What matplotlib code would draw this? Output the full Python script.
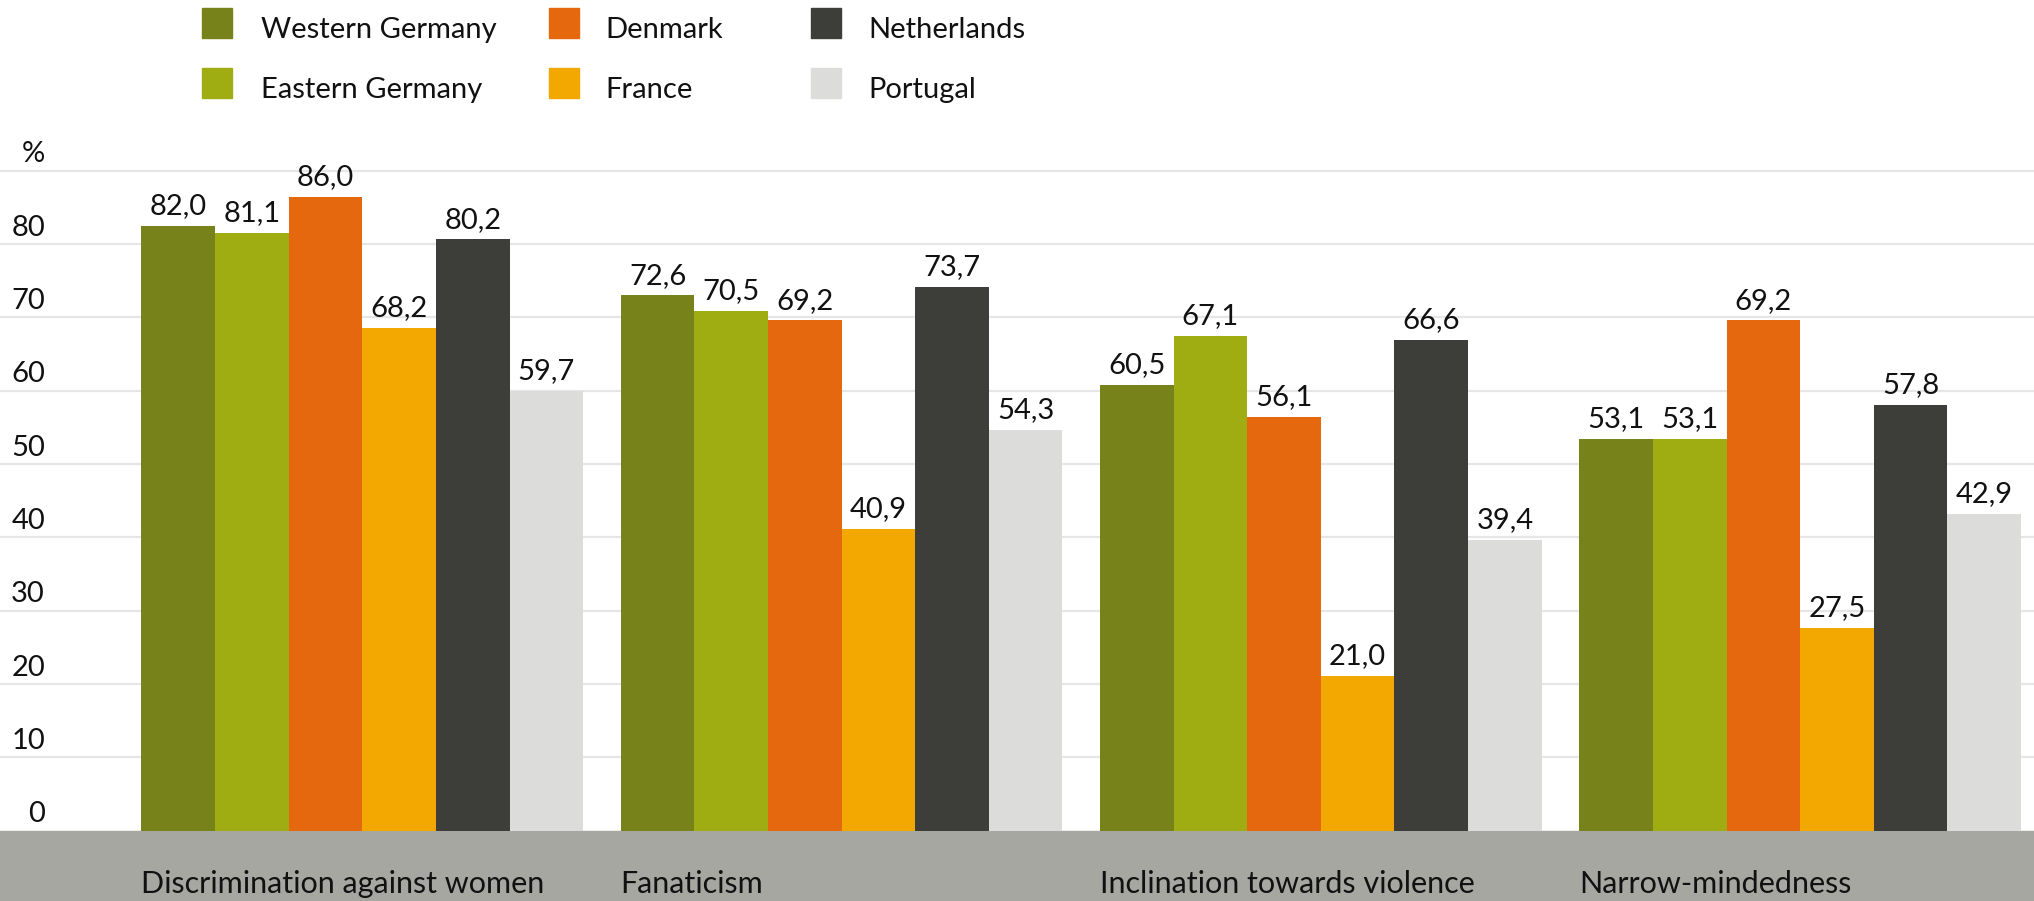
import numpy as np
import matplotlib.pyplot as plt
from matplotlib.patches import Rectangle
import matplotlib.transforms as mtransforms

plt.rcParams['font.family'] = ['Lato', 'DejaVu Sans']

categories = ['Discrimination against women', 'Fanaticism',
              'Inclination towards violence', 'Narrow-mindedness']
series = ['Western Germany', 'Eastern Germany', 'Denmark', 'France', 'Netherlands', 'Portugal']
colors = ['#77821a', '#9fad12', '#e5680e', '#f2a800', '#3d3e39', '#dcdcda']

western_germany = [82.0, 72.6, 60.5, 53.1]
eastern_germany = [81.1, 70.5, 67.1, 53.1]
denmark = [86.0, 69.2, 56.1, 69.2]
france = [68.2, 40.9, 21.0, 27.5]
netherlands = [80.2, 73.7, 66.6, 57.8]
portugal = [59.7, 54.3, 39.4, 42.9]
values = [western_germany, eastern_germany, denmark, france, netherlands, portugal]

yticks = list(range(0, 100, 10))
ytick_labels = ['0', '10', '20', '30', '40', '50', '60', '70', '80', '%']

W, H = 2034, 901
fig = plt.figure(figsize=(W / 100, H / 100), dpi=100)

base_px = 830.5          # pixel row of value 0 (from top)
grid_px_unit = 7.33      # the gridlines in the original sit on a slightly tighter scale
bar_px_unit = 7.37       # than the bars themselves

# axes for gridlines / tick labels / band
gax = fig.add_axes([0, 0, 1, 1])
gax.set_xlim(0, 1)
gax.set_ylim(-(H - base_px) / grid_px_unit, base_px / grid_px_unit)
gax.axis('off')

for t in yticks[1:]:
    gax.axhline(t, color='#e6e6e6', lw=1.6, zorder=1)
for t, lab in zip(yticks, ytick_labels):
    gax.annotate(lab, (45 / W, t), xytext=(0, 6), textcoords='offset points',
                 ha='right', va='baseline', fontsize=21, color='#111111')

# axes for bars
ax = fig.add_axes([0, 0, 1, 1])
ax.patch.set_alpha(0)
ax.set_ylim(-(H - base_px) / bar_px_unit, base_px / bar_px_unit)
ax.set_xlim(-0.756, 3.488)
ax.axis('off')

# grey band below zero
ax.axhspan(ax.get_ylim()[0], 0, color='#a7a7a2', zorder=1)

w = 0.1536
x = np.arange(len(categories))
for j, (vals, c) in enumerate(zip(values, colors)):
    xs = x + (j - 2.5) * w
    bars = ax.bar(xs, vals, w, color=c, zorder=2)
    for b, v in zip(bars, vals):
        ax.annotate(f'{v:.1f}'.replace('.', ','), (b.get_x() + b.get_width() / 2, v),
                    xytext=(0, 8.5), textcoords='offset points', ha='center', va='baseline',
                    fontsize=21, color='#111111', zorder=3)

# category labels in the band
for i, cat in enumerate(categories):
    ax.text(i - 3 * w, -(893 - base_px) / bar_px_unit, cat, ha='left', va='baseline',
            fontsize=22, color='#111111', zorder=3)

# legend drawn by hand: 3 columns x 2 rows
col_swatch = [202, 549, 811]
col_text = [261, 605, 868]
row_bottom = [38, 98]
for j, name in enumerate(series):
    col, row = j // 2, j % 2
    fig.patches.append(Rectangle((col_swatch[col] / W, 1 - row_bottom[row] / H), 30 / W, 30 / H,
                                 transform=fig.transFigure, color=colors[j]))
    fig.text(col_text[col] / W, 1 - row_bottom[row] / H, name, ha='left', va='baseline',
             fontsize=21, color='#111111')

fig.savefig('out.png', dpi=100)
